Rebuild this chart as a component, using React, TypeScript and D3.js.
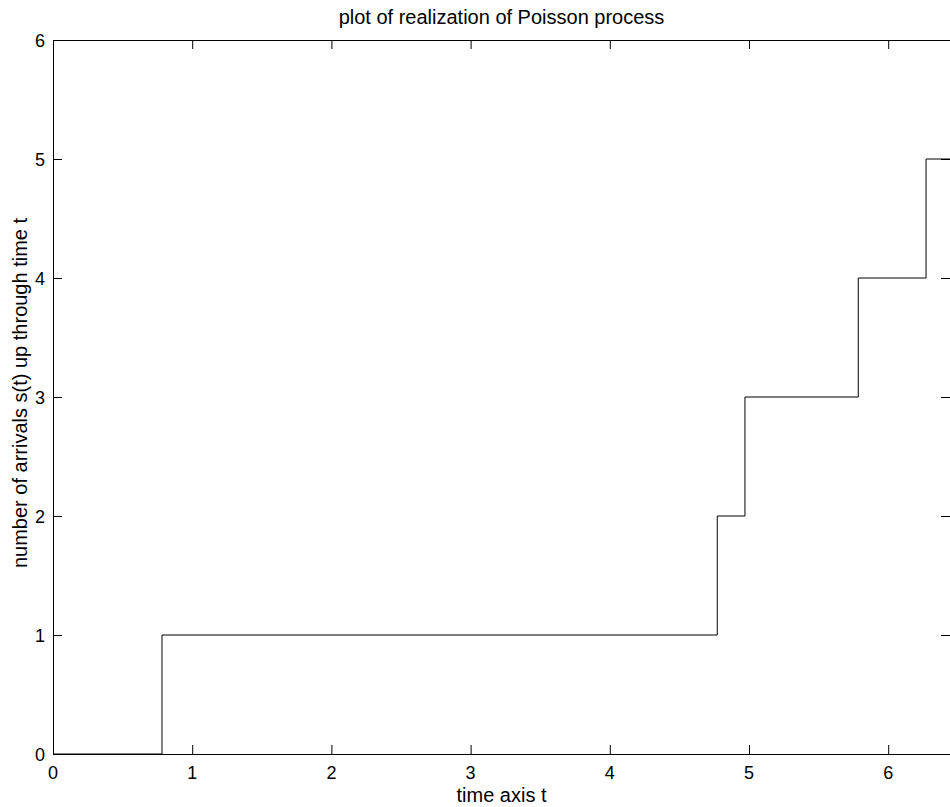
import React from "react";
import * as d3 from "d3";

const arrivalTimes = [0, 0.783, 4.772, 4.971, 5.785, 6.272];
const arrivalCounts = [0, 1, 2, 3, 4, 5];
const xTicks = [0, 1, 2, 3, 4, 5, 6];
const yTicks = [0, 1, 2, 3, 4, 5, 6];
const xMax = 6.444;
const titleText = "plot of realization of Poisson process";
const xLabel = "time axis t";
const yLabel = "number of arrivals s(t) up through time t";

export default function App() {
  const W = 950, H = 807;
  const left = 53, right = 950, top = 40, bottom = 754;
  const x = d3.scaleLinear().domain([0, xMax]).range([left, right]);
  const y = d3.scaleLinear().domain([0, 6]).range([bottom, top]);
  const pts: [number, number][] = arrivalTimes.map((t, i) => [t, arrivalCounts[i]]);
  pts.push([xMax, arrivalCounts[arrivalCounts.length - 1]]);
  const line = d3.line<[number, number]>()
    .x(d => x(d[0]))
    .y(d => y(d[1]))
    .curve(d3.curveStepAfter);
  const tl = 9;
  const font = "Liberation Sans, Arial, sans-serif";
  return (
    <svg width={W} height={H} style={{ position: "absolute", left: 0, top: 0, background: "#fff" }}>
      <rect x={0} y={0} width={W} height={H} fill="#fff" />
      <path d={line(pts) || ""} fill="none" stroke="#000" strokeWidth={1} />
      <rect x={left + 0.5} y={top + 0.5} width={right - left} height={bottom - top} fill="none" stroke="#000" strokeWidth={1} />
      {xTicks.map(t => (
        <g key={"x" + t}>
          <line x1={x(t) + 0.5} x2={x(t) + 0.5} y1={bottom} y2={bottom - tl} stroke="#000" />
          <line x1={x(t) + 0.5} x2={x(t) + 0.5} y1={top} y2={top + tl} stroke="#000" />
          <text x={x(t)} y={779} fontSize={18} fontFamily={font} textAnchor="middle">{t}</text>
        </g>
      ))}
      {yTicks.map(t => (
        <g key={"y" + t}>
          <line x1={left} x2={left + tl} y1={y(t) + 0.5} y2={y(t) + 0.5} stroke="#000" />
          <line x1={right} x2={right - tl} y1={y(t) + 0.5} y2={y(t) + 0.5} stroke="#000" />
          <text x={45} y={y(t) + 6.5} fontSize={18} fontFamily={font} textAnchor="end">{t}</text>
        </g>
      ))}
      <text x={(left + right) / 2} y={24} fontSize={20} fontFamily={font} textAnchor="middle">{titleText}</text>
      <text x={(left + right) / 2} y={802} fontSize={20} fontFamily={font} textAnchor="middle">{xLabel}</text>
      <text transform={`translate(27, ${(top + bottom) / 2 - 4}) rotate(-90)`} fontSize={20} fontFamily={font} textAnchor="middle">{yLabel}</text>
    </svg>
  );
}
